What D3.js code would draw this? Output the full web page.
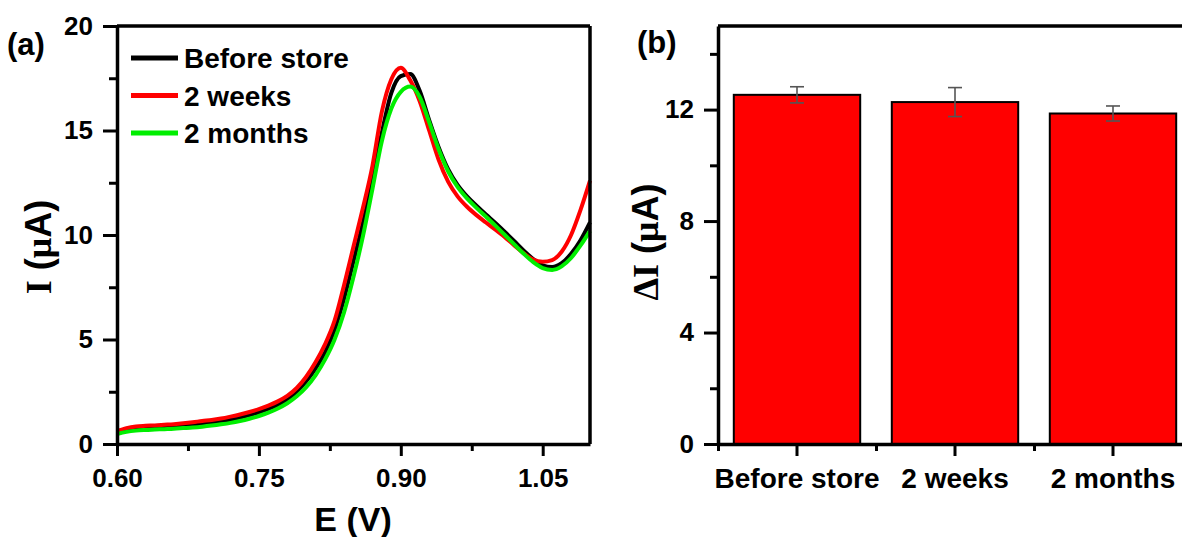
<!DOCTYPE html>
<html>
<head>
<meta charset="utf-8">
<script src="https://cdn.jsdelivr.net/npm/d3@7"></script>
<style>
  body { margin: 0; background: #fff; }
  svg text { font-family: "Liberation Sans", Arial, sans-serif; font-weight: bold; fill: #000; }
</style>
</head>
<body>
<svg id="canvas_svg" width="1182" height="537"></svg>
<script>
// ---- data ----
var potentials = [0.60,0.61,0.62,0.63,0.64,0.65,0.66,0.67,0.68,0.69,
                  0.70,0.71,0.72,0.73,0.74,0.75,0.76,0.77,0.78,0.79,
                  0.80,0.81,0.82,0.83,0.84,0.85,0.86,0.87,0.88,0.89,
                  0.90,0.91,0.92,0.93,0.94,0.95,0.96,0.97,0.98,0.99,
                  1.00,1.01,1.02,1.03,1.04,1.05,1.06,1.07,1.08,1.09,1.10];

var beforeStore = [0.55,0.68,0.74,0.77,0.79,0.81,0.84,0.87,0.91,0.96,
                   1.02,1.08,1.16,1.26,1.38,1.52,1.68,1.88,2.14,2.50,
                   3.00,3.62,4.40,5.45,6.95,8.75,10.60,12.60,14.90,16.80,
                   17.60,17.70,16.90,15.50,14.20,13.15,12.40,11.85,11.40,10.98,
                   10.58,10.15,9.70,9.25,8.85,8.55,8.47,8.65,9.10,9.75,10.60];

var twoWeeks = [0.62,0.76,0.84,0.87,0.89,0.92,0.95,0.99,1.04,1.10,
                1.15,1.22,1.31,1.41,1.53,1.67,1.84,2.04,2.30,2.68,
                3.22,3.92,4.78,5.90,7.60,9.45,11.30,13.30,15.90,17.45,
                18.00,17.40,16.40,15.00,13.60,12.55,11.85,11.35,10.95,10.60,
                10.25,9.90,9.50,9.12,8.82,8.72,8.80,9.20,10.00,11.20,12.60];

var twoMonths = [0.48,0.58,0.64,0.67,0.69,0.71,0.73,0.76,0.79,0.83,
                 0.88,0.94,1.01,1.10,1.21,1.34,1.50,1.70,1.95,2.28,
                 2.72,3.30,4.05,5.00,6.30,8.00,9.95,12.20,14.50,16.05,
                 16.85,17.10,16.60,15.40,14.10,13.05,12.30,11.75,11.30,10.88,
                 10.45,10.00,9.55,9.10,8.70,8.42,8.33,8.50,8.90,9.50,10.20];

var seriesNames = ["Before store", "2 weeks", "2 months"];
var seriesColors = ["#000000", "#ff0000", "#00ee00"];

var barCategories = ["Before store", "2 weeks", "2 months"];
var barValues = [12.53, 12.27, 11.86];
var barErrors = [0.29, 0.52, 0.27];

var leftXTicks = [0.60, 0.75, 0.90, 1.05];
var leftXMinor = [0.675, 0.825, 0.975];
var leftYTicks = [0, 5, 10, 15, 20];
var leftYMinor = [2.5, 7.5, 12.5, 17.5];
var rightYTicks = [0, 4, 8, 12];
var rightYMinor = [2, 6, 10, 14];

var svg = d3.select("#canvas_svg");

// ---------- panel (a) ----------
var x = d3.scaleLinear().domain([0.6, 1.1]).range([117, 590]);
var y = d3.scaleLinear().domain([0, 20]).range([444, 26]);

var series = [beforeStore, twoWeeks, twoMonths];

var line = d3.line()
  .x((d, i) => x(potentials[i]))
  .y(d => y(d))
  .curve(d3.curveMonotoneX);

var gA = svg.append("g");

// black, red, then green on top like the original
[0, 1, 2].forEach(function (k) {
  gA.append("path")
    .datum(series[k])
    .attr("d", line)
    .attr("fill", "none")
    .attr("stroke", seriesColors[k])
    .attr("stroke-width", 4)
    .attr("stroke-linejoin", "round");
});

function styleAxis(g) {
  g.select(".domain").attr("stroke", "#000").attr("stroke-width", 3.5);
  g.selectAll(".tick line").attr("stroke", "#000").attr("stroke-width", 3);
  g.selectAll(".tick text").style("font-size", "26px");
}

// frame top / right
gA.append("line").attr("x1", x(0.6)).attr("x2", x(1.1)).attr("y1", y(20)).attr("y2", y(20))
  .attr("stroke", "#000").attr("stroke-width", 3.5);
gA.append("line").attr("x1", x(1.1)).attr("x2", x(1.1)).attr("y1", y(20)).attr("y2", y(0))
  .attr("stroke", "#000").attr("stroke-width", 3.5);

gA.append("g").attr("transform", "translate(0," + y(0) + ")")
  .call(d3.axisBottom(x).tickValues(leftXMinor).tickSize(7).tickFormat(""))
  .call(g => g.select(".domain").remove())
  .call(styleAxis);
gA.append("g").attr("transform", "translate(0," + y(0) + ")")
  .call(d3.axisBottom(x).tickValues(leftXTicks).tickSize(12).tickPadding(13).tickSizeOuter(0).tickFormat(d3.format(".2f")))
  .call(styleAxis);

gA.append("g").attr("transform", "translate(" + x(0.6) + ",0)")
  .call(d3.axisLeft(y).tickValues(leftYMinor).tickSize(8).tickFormat(""))
  .call(g => g.select(".domain").remove())
  .call(styleAxis);
gA.append("g").attr("transform", "translate(" + x(0.6) + ",0)")
  .call(d3.axisLeft(y).tickValues(leftYTicks).tickSize(14).tickPadding(10).tickSizeOuter(0))
  .call(styleAxis);

// legend
var legend = gA.append("g");
seriesNames.forEach(function (name, i) {
  var ly = 58 + i * 37.5;
  legend.append("line").attr("x1", 131).attr("x2", 178).attr("y1", ly).attr("y2", ly)
    .attr("stroke", seriesColors[i]).attr("stroke-width", 5);
  legend.append("text").attr("x", 184).attr("y", ly + 10).style("font-size", "28px").text(name);
});

// axis titles
gA.append("text").attr("x", 353).attr("y", 531).attr("text-anchor", "middle")
  .style("font-size", "34px").text("E (V)");

var yTitle = gA.append("text")
  .attr("transform", "translate(51,247) rotate(-90)")
  .attr("text-anchor", "middle").style("font-size", "36px");
yTitle.append("tspan").style("font-family", "'Liberation Serif', 'Times New Roman', serif").text("I");
yTitle.append("tspan").text(" (");
yTitle.append("tspan").style("font-family", "'Liberation Serif', 'Times New Roman', serif").text("\u03bc");
yTitle.append("tspan").text("A)");

gA.append("text").attr("x", 7).attr("y", 55).style("font-size", "31px").text("(a)");

// ---------- panel (b) ----------
var xb = d3.scaleBand().domain(barCategories).range([718, 1192]).paddingInner(0.2).paddingOuter(0.1);
var yb = d3.scaleLinear().domain([0, 15]).range([444, 26]);

var gB = svg.append("g");

gB.append("g").selectAll("rect")
  .data(barValues)
  .enter()
  .append("rect")
  .attr("x", (d, i) => xb(barCategories[i]))
  .attr("width", xb.bandwidth())
  .attr("y", d => yb(d))
  .attr("height", d => yb(0) - yb(d))
  .attr("fill", "#ff0000")
  .attr("stroke", "#000")
  .attr("stroke-width", 2);

// error bars
var err = gB.append("g").attr("stroke", "#555").attr("stroke-width", 1.6);
barValues.forEach(function (v, i) {
  var cx = xb(barCategories[i]) + xb.bandwidth() / 2;
  err.append("line").attr("x1", cx).attr("x2", cx).attr("y1", yb(v + barErrors[i])).attr("y2", yb(v - barErrors[i]));
  err.append("line").attr("x1", cx - 7).attr("x2", cx + 7).attr("y1", yb(v + barErrors[i])).attr("y2", yb(v + barErrors[i]));
  err.append("line").attr("x1", cx - 7).attr("x2", cx + 7).attr("y1", yb(v - barErrors[i])).attr("y2", yb(v - barErrors[i]));
});

// frame top / right (right edge falls outside the picture)
gB.append("line").attr("x1", 718).attr("x2", 1192).attr("y1", yb(15)).attr("y2", yb(15))
  .attr("stroke", "#000").attr("stroke-width", 3.5);
gB.append("line").attr("x1", 1192).attr("x2", 1192).attr("y1", yb(15)).attr("y2", yb(0))
  .attr("stroke", "#000").attr("stroke-width", 3.5);

// x axis: minor ticks at band edges, major at centres
var step = xb.step();
var edges = [0, 1, 2, 3].map(i => 718 + i * step);
var edgeScale = d3.scaleLinear().domain([718, 1192]).range([718, 1192]);
gB.append("g").attr("transform", "translate(0," + yb(0) + ")")
  .call(d3.axisBottom(edgeScale).tickValues(edges).tickSize(7).tickFormat(""))
  .call(g => g.select(".domain").remove())
  .call(styleAxis);
gB.append("g").attr("transform", "translate(0," + yb(0) + ")")
  .call(d3.axisBottom(xb).tickSize(12).tickPadding(12).tickSizeOuter(0))
  .call(styleAxis)
  .call(g => g.selectAll(".tick text").style("font-size", "28px"));

gB.append("g").attr("transform", "translate(718,0)")
  .call(d3.axisLeft(yb).tickValues(rightYMinor).tickSize(8).tickFormat(""))
  .call(g => g.select(".domain").remove())
  .call(styleAxis);
gB.append("g").attr("transform", "translate(718,0)")
  .call(d3.axisLeft(yb).tickValues(rightYTicks).tickSize(14).tickPadding(10).tickSizeOuter(0))
  .call(styleAxis);

var ybTitle = gB.append("text")
  .attr("transform", "translate(658,242) rotate(-90)")
  .attr("text-anchor", "middle").style("font-size", "36px");
ybTitle.append("tspan").style("font-family", "'Liberation Serif', 'Times New Roman', serif").text("\u0394I");
ybTitle.append("tspan").text(" (");
ybTitle.append("tspan").style("font-family", "'Liberation Serif', 'Times New Roman', serif").text("\u03bc");
ybTitle.append("tspan").text("A)");

gB.append("text").attr("x", 637).attr("y", 53).style("font-size", "31px").text("(b)");
</script>
</body>
</html>
